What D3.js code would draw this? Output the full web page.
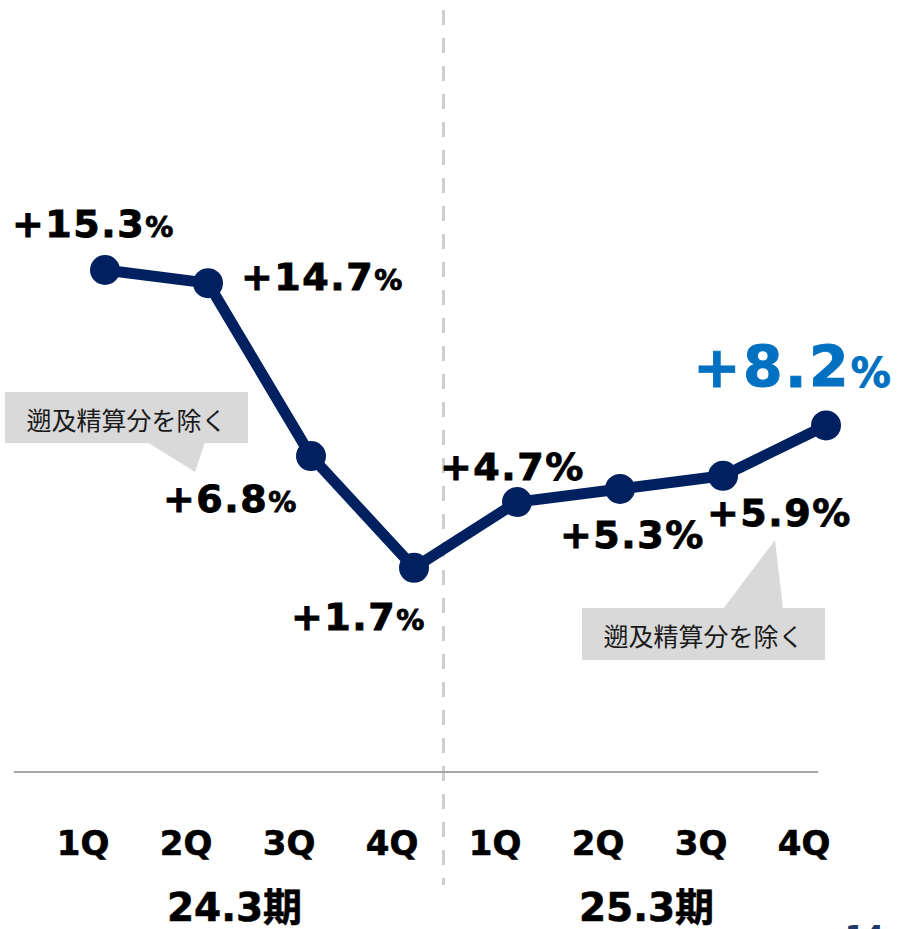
<!DOCTYPE html>
<html>
<head>
<meta charset="utf-8">
<script src="https://cdn.jsdelivr.net/npm/d3@7"></script>
<style>
  html, body { margin: 0; padding: 0; background: #fff; }
  svg { display: block; }
</style>
</head>
<body>
<svg id="vis" width="902" height="929"></svg>
<script>
// data
const quarters = ['1Q', '2Q', '3Q', '4Q', '1Q', '2Q', '3Q', '4Q'];
const periods = ['24.3期', '25.3期'];
const growth = [15.3, 14.7, 6.8, 1.7, 4.7, 5.3, 5.9, 8.2];
const valueLabels = ['+15.3', '+14.7', '+6.8', '+1.7', '+4.7', '+5.3', '+5.9', '+8.2'];
const noteText = '遡及精算分を除く';
const pageNo = '14';

const navy = '#002060';
const latin = "'DejaVu Sans', Verdana, sans-serif";
const cjk = "'Noto Sans CJK JP', 'Noto Sans', sans-serif";

const svg = d3.select('#vis');
svg.append('rect').attr('width', 902).attr('height', 929).attr('fill', '#fff');

const keys = quarters.map((q, i) => i);
const xScale = d3.scalePoint().domain(keys).range([105, 826]);
const yScale = d3.scaleLinear().domain([0, 15.3]).range([605, 270]);
const baseY = 772;
const labelShift = -22;   // quarter labels sit a bit left of the markers

const points = growth.map((v, i) => ({ i: i, v: v, x: xScale(i), y: yScale(v) }));

// dashed divider between the two fiscal years
const divX = (xScale(3) + xScale(4)) / 2 + labelShift;
svg.append('line')
    .attr('x1', divX).attr('x2', divX)
    .attr('y1', 10).attr('y2', 885)
    .attr('stroke', '#d0d0d0')
    .attr('stroke-width', 3)
    .attr('stroke-dasharray', '15 13');

// baseline
svg.append('line')
    .attr('x1', 14).attr('x2', 818)
    .attr('y1', baseY).attr('y2', baseY)
    .attr('stroke', '#a6a6a6')
    .attr('stroke-width', 2);

// callouts
function callout(box, tri) {
    const g = svg.append('g');
    g.append('rect')
        .attr('x', box.x).attr('y', box.y)
        .attr('width', box.w).attr('height', box.h)
        .attr('fill', '#d9d9d9');
    g.append('path')
        .attr('d', d3.line()(tri) + 'Z')
        .attr('fill', '#d9d9d9');
    g.append('text')
        .attr('x', box.x + box.w / 2)
        .attr('y', box.y + box.h / 2 + 1)
        .attr('text-anchor', 'middle')
        .attr('dominant-baseline', 'central')
        .attr('font-family', cjk)
        .attr('font-size', '25px')
        .attr('fill', '#1a1a1a')
        .text(noteText);
}
callout({ x: 5, y: 392, w: 243, h: 51 }, [[147, 442], [205, 442], [195, 472]]);
callout({ x: 582, y: 608, w: 243, h: 52 }, [[723, 609], [783, 609], [775, 540]]);

// line + markers
svg.append('path')
    .datum(points)
    .attr('d', d3.line().x(d => d.x).y(d => d.y))
    .attr('fill', 'none')
    .attr('stroke', navy)
    .attr('stroke-width', 11)
    .attr('stroke-linejoin', 'round');

svg.selectAll('circle.pt')
    .data(points)
    .enter()
    .append('circle')
    .attr('class', 'pt')
    .attr('cx', d => d.x)
    .attr('cy', d => d.y)
    .attr('r', 15)
    .attr('fill', navy);

// value labels: offset from marker, size of number and of the % sign
const labelStyle = [
    { dx: -93, dy: -33, size: 38, pct: 28, color: '#000' },
    { dx: 33, dy: 7, size: 38, pct: 28, color: '#000' },
    { dx: -148, dy: 56, size: 38, pct: 28, color: '#000' },
    { dx: -123, dy: 62, size: 38, pct: 28, color: '#000' },
    { dx: -77, dy: -22, size: 38, pct: 38, color: '#000' },
    { dx: -60, dy: 59, size: 38, pct: 38, color: '#000' },
    { dx: -16, dy: 50, size: 38, pct: 38, color: '#000' },
    { dx: -133, dy: -38, size: 57, pct: 40, color: '#0070c0' }
];

const vl = svg.selectAll('text.val')
    .data(points)
    .enter()
    .append('text')
    .attr('class', 'val')
    .attr('x', d => d.x + labelStyle[d.i].dx)
    .attr('y', d => d.y + labelStyle[d.i].dy)
    .attr('font-family', latin)
    .attr('font-weight', 'bold')
    .attr('fill', d => labelStyle[d.i].color)
    .attr('stroke', d => labelStyle[d.i].color)
    .attr('stroke-width', 0.9);
vl.append('tspan')
    .attr('font-size', d => labelStyle[d.i].size + 'px')
    .attr('letter-spacing', d => (labelStyle[d.i].size * 0.04) + 'px')
    .text(d => valueLabels[d.i]);
vl.append('tspan')
    .attr('font-size', d => labelStyle[d.i].pct + 'px')
    .text('%');

// quarter labels
svg.selectAll('text.q')
    .data(points)
    .enter()
    .append('text')
    .attr('class', 'q')
    .attr('x', d => d.x + labelShift)
    .attr('y', 855)
    .attr('text-anchor', 'middle')
    .attr('font-family', latin)
    .attr('font-weight', 'bold')
    .attr('font-size', '34px')
    .attr('fill', '#000')
    .attr('stroke', '#000')
    .attr('stroke-width', 0.6)
    .text(d => quarters[d.i]);

// fiscal year labels
svg.selectAll('text.period')
    .data(periods)
    .enter()
    .append('text')
    .attr('class', 'period')
    .attr('x', (d, j) => d3.mean(keys.slice(j * 4, j * 4 + 4), k => xScale(k)) + labelShift - 3)
    .attr('y', 921)
    .attr('text-anchor', 'middle')
    .attr('font-family', latin + ", " + cjk)
    .attr('font-weight', 'bold')
    .attr('font-size', '39px')
    .attr('fill', '#000')
    .attr('stroke', '#000')
    .attr('stroke-width', 0.6)
    .text(d => d);

// page number, partly cut by the bottom edge as in the slide
svg.append('text')
    .attr('x', 845)
    .attr('y', 946)
    .attr('font-family', latin)
    .attr('font-weight', 'bold')
    .attr('font-size', '28px')
    .attr('fill', '#1f3864')
    .text(pageNo);
</script>
</body>
</html>
